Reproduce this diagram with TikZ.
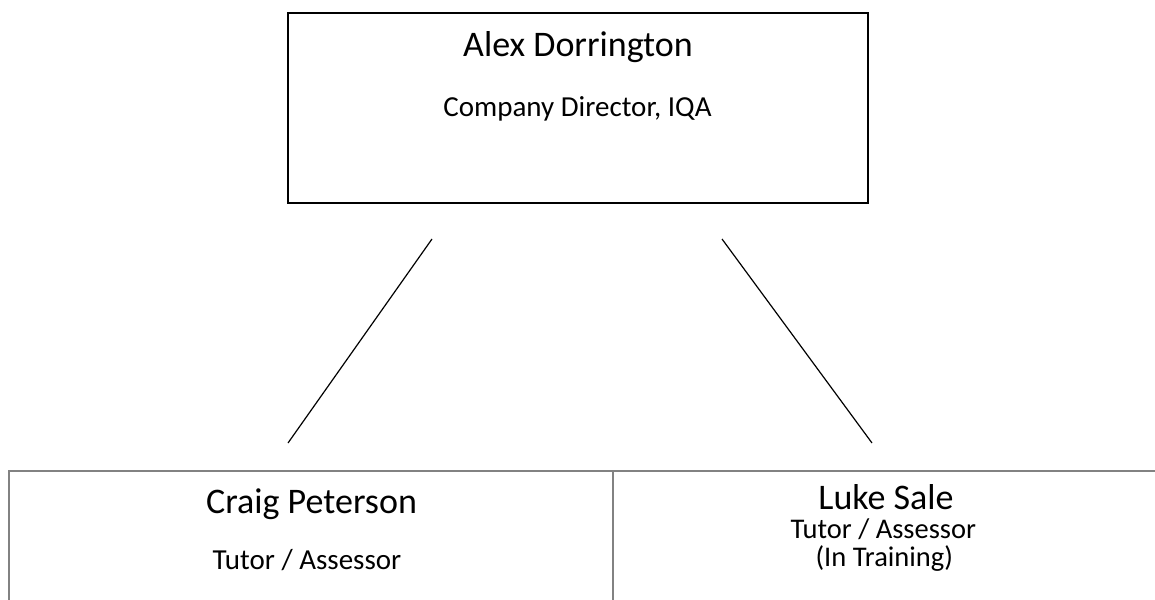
\documentclass[tikz,border=0pt]{standalone}
\usepackage{fontspec}
\setmainfont{Carlito}
\definecolor{cellgray}{RGB}{130,130,130}
\begin{document}
\begin{tikzpicture}[x=1pt,y=-1pt,
  namefont/.style={font=\fontsize{36}{36}\selectfont, anchor=base, inner sep=0pt},
  rolefont/.style={font=\fontsize{29}{29}\selectfont, anchor=base, inner sep=0pt},
  tightrole/.style={font=\fontsize{28.5}{28.5}\selectfont, anchor=base, inner sep=0pt, text height=19pt, text depth=3pt},
  topbox/.style={draw=black, line width=2pt, minimum width=579.5pt, minimum height=190pt, inner sep=0pt},
  cellline/.style={draw=cellgray, line width=2pt},
  link/.style={draw=black, line width=1.2pt}]
\useasboundingbox (0,0) rectangle (1155,599);
\clip (0,0) rectangle (1155,599);
% top box
\node[topbox] (alex) at (578,108) {};
\node[namefont] (alexname) at (578,57) {Alex Dorrington};
\node[rolefont] (alexrole) at (577.5,117) {Company Director, IQA};
% connectors
\coordinate (l1) at (432,239);
\coordinate (l2) at (288,443);
\coordinate (r1) at (722,239);
\coordinate (r2) at (872,443);
\draw[link] (l1) -- (l2);
\draw[link] (r1) -- (r2);
% bottom cells
\coordinate (cbl) at (9,630);
\coordinate (ctl) at (9,470.7);
\coordinate (ctr) at (1180,470.7);
\coordinate (cmt) at (613,470.7);
\coordinate (cmb) at (613,630);
\draw[cellline] (cbl) -- (ctl) -- (ctr);
\draw[cellline] (cmt) -- (cmb);
\node[namefont] (craigname) at (311.5,513.3) {Craig Peterson};
\node[rolefont] (craigrole) at (307,569.3) {Tutor / Assessor};
\node[namefont, text height=24pt, text depth=1pt] (lukename) at (886,509) {Luke Sale};
\node[tightrole] (lukerole) at (883.3,538.5) {Tutor / Assessor};
\node[tightrole] (luketrain) at (884.3,566) {(In Training)};
\end{tikzpicture}
\end{document}
